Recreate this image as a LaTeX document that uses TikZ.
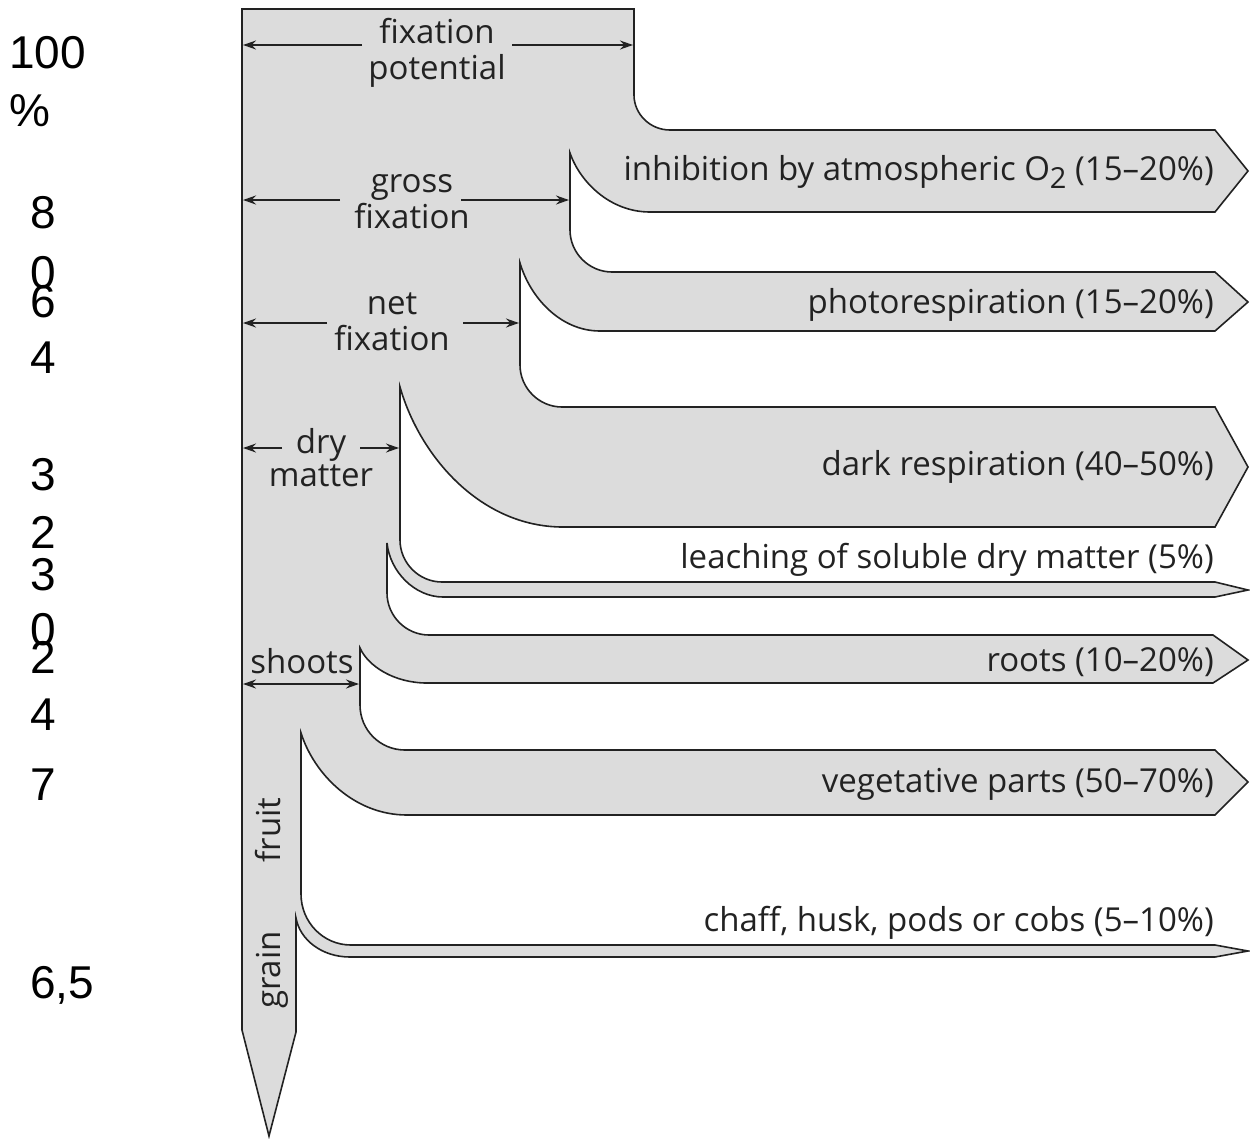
\documentclass[tikz,border=0pt]{standalone}
\usepackage{fontspec}
\setmainfont{Open Sans}
\newfontfamily\numfont{Liberation Sans}
\usetikzlibrary{arrows.meta}
\definecolor{flowgray}{HTML}{DCDCDC}
\definecolor{ink}{HTML}{222222}
\begin{document}
\begin{tikzpicture}[x=1pt,y=-1pt,
  flow/.style={fill=flowgray, draw=ink, line width=1.6pt, line join=miter},
  lbl/.style={inner sep=0pt, text=ink, font=\fontsize{33}{33}\selectfont},
  twoline/.style={lbl, align=center},
  rlbl/.style={lbl, anchor=base east},
  num/.style={inner sep=0pt, anchor=base west, font=\numfont\fontsize{46}{46}\selectfont},
  dim/.style={draw=ink, line width=1.4pt, -{Stealth[length=13pt,width=9pt]}},
  dimbold/.style={dim, line width=2.2pt},
  dimboth/.style={draw=ink, line width=1.8pt, {Stealth[length=13pt,width=9pt]}-{Stealth[length=13pt,width=9pt]}},
]
\fill[white] (0,0) rectangle (1250,1138);
\useasboundingbox (0,0) rectangle (1250,1138);

% the flow shape
\path[flow] (242,9) -- (634,9) -- (634,95)
  .. controls (634,114) and (650,130) .. (670,130)
  -- (1215,130) -- (1248,171) -- (1215,212)
  -- (650,212) .. controls (610,212) and (580,182) .. (570,153)
  -- (570,230) .. controls (570,253) and (589,272) .. (612,272)
  -- (1215,272) -- (1248,302) -- (1215,331)
  -- (600,331) .. controls (560,331) and (530,297) .. (520,263)
  -- (520,365) .. controls (520,388) and (539,407) .. (562,407)
  -- (1215,407) -- (1248,467) -- (1215,527)
  -- (563,527) .. controls (481,527) and (420,457) .. (400,387)
  -- (400,540) .. controls (400,563) and (419,582) .. (442,582)
  -- (1215,582) -- (1248,590) -- (1215,597)
  -- (443,597) .. controls (415,597) and (390,572) .. (387,543)
  -- (387,593) .. controls (387,616) and (406,635) .. (429,635)
  -- (1213,635) -- (1248,660) -- (1213,683)
  -- (427,683) .. controls (394,683) and (368,666) .. (360,648)
  -- (360,705) .. controls (360,730) and (380,750) .. (405,750)
  -- (1215,750) -- (1248,782) -- (1215,815)
  -- (407,815) .. controls (354,815) and (314,774) .. (301,733)
  -- (301,894) .. controls (301,922) and (323,945) .. (351,945)
  -- (1215,945) -- (1248,951) -- (1215,957)
  -- (350,957) .. controls (322,957) and (300,940) .. (296,918)
  -- (296,1032) -- (269,1136) -- (242,1030) -- cycle;

% dimension labels
\node[twoline] (fp) at (437,54) {\strut fixation\\\strut potential};
\node[twoline] (gf) at (412,204) {\strut gross\\\strut fixation};
\node[twoline] (nf) at (392,326) {\strut net\\\strut fixation};
\node[twoline] (dm) at (321,462) {\strut dry\\\strut matter};
\node[lbl, anchor=base] (sh) at (302,673) {shoots};
\node[lbl, anchor=base, rotate=90] (fr) at (280,830) {fruit};
\node[lbl, anchor=base, rotate=90] (gr) at (280,970) {grain};

% dimension arrows
\coordinate (fpa) at (362,45);  \coordinate (fpL) at (243,45);
\coordinate (fpb) at (512,45);  \coordinate (fpR) at (633,45);
\coordinate (gfa) at (340,200); \coordinate (gfL) at (243,200);
\coordinate (gfb) at (461,200); \coordinate (gfR) at (569,200);
\coordinate (nfa) at (327,323); \coordinate (nfL) at (243,323);
\coordinate (nfb) at (463,323); \coordinate (nfR) at (519,323);
\coordinate (dma) at (282,448); \coordinate (dmL) at (243,448);
\coordinate (dmb) at (360,448); \coordinate (dmR) at (399,448);
\coordinate (shL) at (243,684); \coordinate (shR) at (359,684);
\draw[dim] (fpa) -- (fpL);
\draw[dim] (fpb) -- (fpR);
\draw[dimbold] (gfa) -- (gfL);
\draw[dimbold] (gfb) -- (gfR);
\draw[dim] (nfa) -- (nfL);
\draw[dim] (nfb) -- (nfR);
\draw[dim] (dma) -- (dmL);
\draw[dim] (dmb) -- (dmR);
\draw[dimboth] (shL) -- (shR);

% branch labels
\node[rlbl] (inh) at (1214,180) {inhibition by atmospheric O\raisebox{-8pt}{\fontsize{29}{29}\selectfont 2} (15\textendash20\%)};
\node[rlbl] (pr) at (1214,313) {photorespiration (15\textendash20\%)};
\node[rlbl] (dr) at (1214,475) {dark respiration (40\textendash50\%)};
\node[rlbl] (le) at (1214,568) {leaching of soluble dry matter (5\%)};
\node[rlbl] (ro) at (1214,671) {roots (10\textendash20\%)};
\node[rlbl] (ve) at (1214,792) {vegetative parts (50\textendash70\%)};
\node[rlbl] (ch) at (1214,931) {chaff, husk, pods or cobs (5\textendash10\%)};

% side numbers
\node[num] (p100) at (9,68) {100};
\node[num] (ppct) at (9,126) {\%};
\node[num] (p80a) at (30,228) {8};
\node[num] (p80b) at (30,288) {0};
\node[num] (p64a) at (30,317) {6};
\node[num] (p64b) at (30,373) {4};
\node[num] (p32a) at (30,490) {3};
\node[num] (p32b) at (30,548) {2};
\node[num] (p30a) at (30,590) {3};
\node[num] (p30b) at (30,645) {0};
\node[num] (p24a) at (30,673) {2};
\node[num] (p24b) at (30,730) {4};
\node[num] (p7) at (30,800) {7};
\node[num] (p65) at (30,998) {6,5};
\end{tikzpicture}
\end{document}
